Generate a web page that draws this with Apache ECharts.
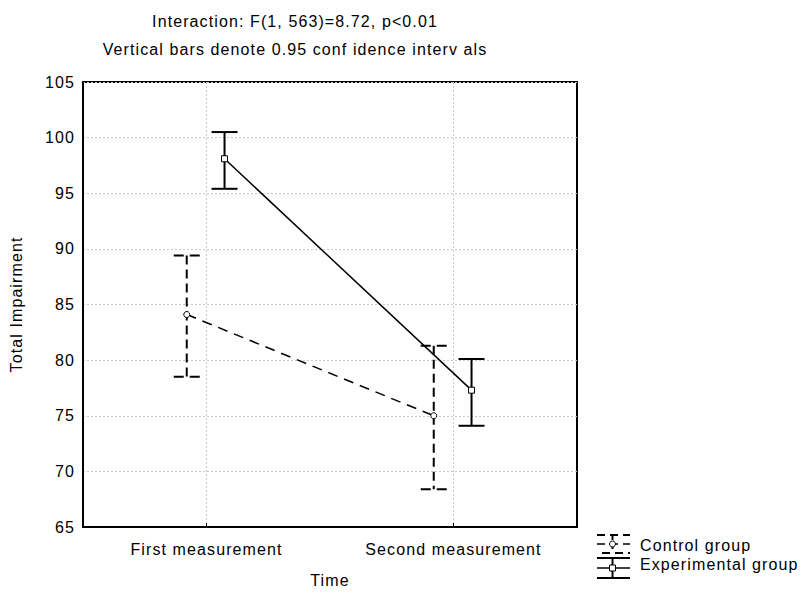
<!DOCTYPE html>
<html>
<head>
<meta charset="utf-8">
<script src="https://cdn.jsdelivr.net/npm/echarts@6/dist/echarts.min.js"></script>
<style>
  html, body { margin: 0; padding: 0; background: #fff; }
  #chart { width: 802px; height: 593px; }
  #chart text { letter-spacing: 1.1px; }
</style>
</head>
<body>
<div id="chart"></div>
<script>
// Measurement occasions
const categories = ['First measurement', 'Second measurement'];

// Control group: means and 95% confidence limits
const controlMean = [84.1, 75.0];
const controlLower = [78.5, 68.4];
const controlUpper = [89.4, 81.3];

// Experimental group: means and 95% confidence limits
const expMean = [98.1, 77.3];
const expLower = [95.4, 74.1];
const expUpper = [100.5, 80.1];

// Y axis ticks
const yMin = 65, yMax = 105, yStep = 5;

const FONT = '"Liberation Sans", Arial, sans-serif';
const FS = 16;
const CONTROL_SHIFT = -0.08;   // horizontal dodge of the control group
const EXP_SHIFT = 0.073;       // horizontal dodge of the experimental group

// category axis laid out on half-steps so that ticks and grid lines sit under the labels
const axisSlots = ['', categories[0], '', categories[1], ''];
const onCategory = (i) => i % 2 === 1;

function points(means, shift) {
  return means.map((v, i) => [i + 1 + shift, v]);
}
function intervals(lo, hi, shift) {
  return lo.map((v, i) => [i + 1 + shift, v, hi[i]]);
}

function whisker(dashed) {
  return function (params, api) {
    const x = api.value(0);
    const top = api.coord([x, api.value(2)]);
    const bot = api.coord([x, api.value(1)]);
    const w = 13;
    const base = { stroke: '#000', lineWidth: 2, fill: null };
    const stem = Object.assign({}, base, dashed ? { lineDash: [9, 5] } : {});
    const cap = Object.assign({}, base, dashed ? { lineDash: [10, 6] } : {});
    return {
      type: 'group',
      children: [
        { type: 'line', shape: { x1: top[0], y1: top[1], x2: bot[0], y2: bot[1] }, style: stem },
        { type: 'line', shape: { x1: top[0] - w, y1: top[1], x2: top[0] + w, y2: top[1] }, style: cap },
        { type: 'line', shape: { x1: bot[0] - w, y1: bot[1], x2: bot[0] + w, y2: bot[1] }, style: cap }
      ]
    };
  };
}

const chart = echarts.init(document.getElementById('chart'), null, { renderer: 'svg' });

function label(text, x, y, align) {
  return {
    type: 'text', x: x, y: y,
    style: { text: text, font: FS + 'px ' + FONT, fill: '#000', textAlign: align, textVerticalAlign: 'middle', align: align, verticalAlign: 'middle' }
  };
}

// legend icons drawn as miniature whiskers
const lx1 = 597, lx2 = 630, lxc = 612.5;
const legendGraphics = [
  // control group icon (dashed)
  { type: 'line', shape: { x1: lx1, y1: 535, x2: lx2, y2: 535 }, style: { stroke: '#000', lineWidth: 2, lineDash: [8, 5] } },
  { type: 'line', shape: { x1: lxc, y1: 535, x2: lxc, y2: 553 }, style: { stroke: '#000', lineWidth: 2, lineDash: [5, 4] } },
  { type: 'line', shape: { x1: lx1, y1: 544, x2: lx2, y2: 544 }, style: { stroke: '#000', lineWidth: 1.5, lineDash: [8, 5] } },
  { type: 'line', shape: { x1: lx1, y1: 553, x2: lx2, y2: 553 }, style: { stroke: '#000', lineWidth: 2, lineDash: [8, 5], lineDashOffset: 8 } },
  { type: 'circle', shape: { cx: lxc, cy: 544, r: 3 }, style: { fill: '#fff', stroke: '#000', lineWidth: 1 } },
  label('Control group', 640, 545, 'left'),
  // experimental group icon (solid)
  { type: 'line', shape: { x1: lx1, y1: 558, x2: lx2, y2: 558 }, style: { stroke: '#000', lineWidth: 2 } },
  { type: 'line', shape: { x1: lxc, y1: 558, x2: lxc, y2: 578 }, style: { stroke: '#000', lineWidth: 2 } },
  { type: 'line', shape: { x1: lx1, y1: 568, x2: lx2, y2: 568 }, style: { stroke: '#000', lineWidth: 1.5 } },
  { type: 'line', shape: { x1: lx1, y1: 578, x2: lx2, y2: 578 }, style: { stroke: '#000', lineWidth: 2 } },
  { type: 'rect', shape: { x: lxc - 3, y: 565, width: 6, height: 6 }, style: { fill: '#fff', stroke: '#000', lineWidth: 1 } },
  label('Experimental group', 640, 564, 'left')
];

const titleGraphics = [
  label('Interaction: F(1, 563)=8.72, p<0.01', 295, 21, 'center'),
  label('Vertical bars denote 0.95 conf idence interv als', 295, 49, 'center')
];

chart.setOption({
  animation: false,
  backgroundColor: '#fff',
  textStyle: { fontFamily: FONT },
  grid: {
    left: 80, right: 225, top: 82, bottom: 61,
    show: true, borderColor: '#000', borderWidth: 2, backgroundColor: 'transparent'
  },
  graphic: titleGraphics.concat(legendGraphics),
  xAxis: [
    {
      type: 'category',
      data: axisSlots,
      boundaryGap: false,
      name: 'Time',
      nameLocation: 'middle',
      nameGap: 45,
      nameTextStyle: { fontSize: FS, color: '#000', fontFamily: FONT },
      axisLine: { lineStyle: { color: '#000', width: 2 } },
      axisTick: { show: true, inside: true, length: 4, interval: onCategory, lineStyle: { color: '#000', width: 1 } },
      axisLabel: { fontSize: FS, color: '#000', margin: 14, fontFamily: FONT, interval: onCategory },
      splitLine: { show: true, interval: onCategory, lineStyle: { color: '#c8c8c8', type: [2, 2], width: 1 } }
    },
    {
      type: 'value',
      min: 0.5, max: 2.5,
      show: false
    }
  ],
  yAxis: {
    type: 'value',
    min: yMin, max: yMax, interval: yStep,
    name: 'Total Impairment',
    nameLocation: 'middle',
    nameGap: 59,
    nameTextStyle: { fontSize: FS, color: '#000', fontFamily: FONT },
    axisLine: { show: true, lineStyle: { color: '#000', width: 2 } },
    axisTick: { show: false },
    axisLabel: { fontSize: FS, color: '#000', margin: 8, fontFamily: FONT },
    splitLine: { show: true, lineStyle: { color: '#c8c8c8', type: [2, 2], width: 1 } }
  },
  series: [
    {
      name: 'Control group CI',
      type: 'custom',
      xAxisIndex: 1,
      data: intervals(controlLower, controlUpper, CONTROL_SHIFT),
      encode: { x: 0, y: [1, 2] },
      renderItem: whisker(true),
      z: 3
    },
    {
      name: 'Experimental group CI',
      type: 'custom',
      xAxisIndex: 1,
      data: intervals(expLower, expUpper, EXP_SHIFT),
      encode: { x: 0, y: [1, 2] },
      renderItem: whisker(false),
      z: 3
    },
    {
      name: 'Control group',
      type: 'line',
      xAxisIndex: 1,
      data: points(controlMean, CONTROL_SHIFT),
      symbol: 'circle',
      symbolSize: 6,
      showSymbol: true,
      lineStyle: { color: '#000', width: 1.5, type: [10, 7] },
      itemStyle: { color: '#fff', borderColor: '#000', borderWidth: 1 },
      z: 4
    },
    {
      name: 'Experimental group',
      type: 'line',
      xAxisIndex: 1,
      data: points(expMean, EXP_SHIFT),
      symbol: 'rect',
      symbolSize: 6,
      showSymbol: true,
      lineStyle: { color: '#000', width: 1.5 },
      itemStyle: { color: '#fff', borderColor: '#000', borderWidth: 1 },
      z: 4
    }
  ]
});
</script>
</body>
</html>
